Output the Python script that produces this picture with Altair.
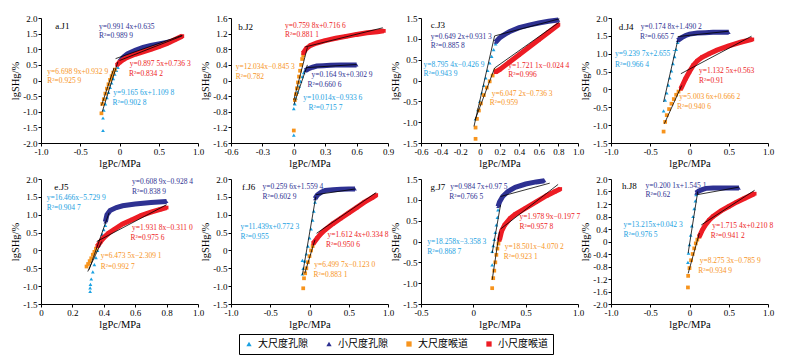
import altair as alt
import pandas as pd

SERIES = ["大尺度孔隙", "小尺度孔隙", "大尺度喉道", "小尺度喉道"]
COLORS = ["#1BA1E2", "#2E3192", "#F7941D", "#ED1C24"]
SHAPES = ["triangle-up", "triangle-up", "square", "square"]

# ---------------- a.J1 ----------------
j1_large_pore = [(-0.21, -1.6), (-0.21, -1.2), (-0.2, -0.95), (-0.18, -0.75), (-0.16, -0.55), (-0.14, -0.38),
                 (-0.12, -0.22), (-0.1, -0.08), (-0.08, 0.06), (-0.06, 0.2), (-0.04, 0.32), (-0.02, 0.42)]
j1_small_pore = [(0.0, 0.6), (0.05, 0.75), (0.1, 0.85), (0.2, 0.97), (0.3, 1.06), (0.4, 1.12), (0.5, 1.17),
                 (0.6, 1.22), (0.66, 1.25)]
j1_large_throat = [(-0.23, -1.05), (-0.22, -0.75), (-0.2, -0.6), (-0.18, -0.42), (-0.16, -0.26), (-0.14, -0.12),
                   (-0.12, 0.02), (-0.1, 0.14), (-0.08, 0.25), (-0.06, 0.35)]
j1_small_throat = [(-0.03, 0.5), (0.0, 0.58), (0.05, 0.67), (0.1, 0.74), (0.2, 0.84), (0.3, 0.92), (0.4, 1.0),
                   (0.5, 1.08), (0.6, 1.18), (0.7, 1.3), (0.8, 1.42)]
j1_fits = [(0, -0.22, -1.0, -0.02, 0.6), (1, 0.0, 0.64, 0.8, 1.43), (2, -0.23, -0.8, -0.07, 0.4), (3, -0.05, 0.7, 0.8, 1.45)]
j1_eqs = [(1, "y=0.991 4x+0.635", -0.26, 1.71), (1, "R²=0.989 9", -0.26, 1.41),
          (3, "y=0.897 5x+0.736 3", 0.13, 0.52), (3, "R²=0.834 2", 0.12, 0.21),
          (2, "y=6.698 9x+0.932 9", -0.92, 0.28), (2, "R²=0.925 9", -0.92, -0.01),
          (0, "y=9.165 6x+1.109 8", -0.08, -0.41), (0, "R²=0.902 8", -0.09, -0.71)]

# ---------------- b.J2 ----------------
j2_large_pore = [(0.0, -1.4), (0.0, -0.72), (0.01, -0.6), (0.02, -0.45), (0.035, -0.3), (0.05, -0.15),
                 (0.065, -0.02), (0.08, 0.1), (0.095, 0.2), (0.11, 0.28)]
j2_small_pore = [(0.11, 0.25), (0.14, 0.3), (0.18, 0.34), (0.22, 0.37), (0.28, 0.38), (0.35, 0.39), (0.45, 0.4),
                 (0.55, 0.4), (0.6, 0.4)]
j2_large_throat = [(0.0, -1.28), (0.01, -0.5), (0.02, -0.35), (0.03, -0.2), (0.04, -0.05), (0.05, 0.1),
                   (0.06, 0.25), (0.07, 0.4), (0.08, 0.55), (0.09, 0.65)]
j2_small_throat = [(0.09, 0.7), (0.12, 0.82), (0.16, 0.9), (0.22, 0.96), (0.3, 1.02), (0.4, 1.08), (0.5, 1.13),
                   (0.6, 1.18), (0.7, 1.22), (0.8, 1.25), (0.86, 1.27)]
j2_fits = [(0, 0.0, -0.62, 0.13, 0.4), (1, 0.12, 0.33, 0.6, 0.41), (2, 0.0, -0.5, 0.13, 0.85), (3, 0.11, 0.86, 0.85, 1.35)]
j2_eqs = [(3, "y=0.759 8x+0.716 6", -0.085, 1.40), (3, "R²=0.881 1", -0.085, 1.17),
          (2, "y=12.034x−0.845 3", -0.555, 0.34), (2, "R²=0.782", -0.555, 0.09),
          (1, "y=0.164 9x+0.302 9", 0.17, 0.14), (1, "R²=0.660 6", 0.13, -0.11),
          (0, "y=10.014x−0.933 6", 0.09, -0.44), (0, "R²=0.715 7", 0.14, -0.7)]

# ---------------- c.J3 ----------------
j3_large_pore = [(-0.044, -0.92), (-0.02, -0.7), (0.0, -0.5), (0.02, -0.3), (0.04, -0.12), (0.06, 0.06),
                 (0.08, 0.24), (0.1, 0.42), (0.12, 0.58), (0.14, 0.74), (0.16, 0.88)]
j3_small_pore = [(0.16, 0.92), (0.2, 1.02), (0.25, 1.1), (0.3, 1.17), (0.4, 1.27), (0.5, 1.33), (0.6, 1.38),
                 (0.7, 1.42), (0.8, 1.45)]
j3_large_throat = [(-0.044, -1.4), (-0.044, -1.13), (-0.03, -0.92), (-0.01, -0.72), (0.01, -0.55), (0.04, -0.35),
                   (0.07, -0.17), (0.1, -0.02), (0.13, 0.12), (0.16, 0.24)]
j3_small_throat = [(0.16, 0.2), (0.2, 0.26), (0.3, 0.44), (0.4, 0.62), (0.5, 0.8), (0.6, 0.98), (0.7, 1.16),
                   (0.8, 1.34)]
j3_fits = [(0, -0.06, -1.1, 0.15, 1.07), (1, 0.15, 1.07, 0.81, 1.48), (2, -0.05, -0.95, 0.15, 0.3), (3, 0.15, 0.3, 0.81, 1.4)]
j3_eqs = [(1, "y=0.649 2x+0.931 3", -0.5, 1.05), (1, "R²=0.885 8", -0.5, 0.84),
          (0, "y=8.795 4x−0.426 9", -0.575, 0.38), (0, "R²=0.943 9", -0.575, 0.16),
          (3, "y=1.721 1x−0.024 4", 0.29, 0.36), (3, "R²=0.996", 0.29, 0.14),
          (2, "y=6.047 2x−0.736 3", 0.12, -0.32), (2, "R²=0.959", 0.10, -0.54)]

# ---------------- d.J4 ----------------
j4_large_pore = [(-0.33, -0.6), (-0.31, -0.3), (-0.29, -0.1), (-0.27, 0.12), (-0.25, 0.32), (-0.23, 0.52),
                 (-0.21, 0.72), (-0.19, 0.92), (-0.17, 1.12), (-0.15, 1.32)]
j4_small_pore = [(-0.15, 1.37), (-0.1, 1.45), (-0.05, 1.51), (0.0, 1.55), (0.1, 1.58), (0.2, 1.59), (0.3, 1.6),
                 (0.4, 1.6), (0.5, 1.6)]
j4_large_throat = [(-0.33, -1.18), (-0.31, -0.91), (-0.29, -0.72), (-0.26, -0.55), (-0.23, -0.4), (-0.2, -0.27),
                   (-0.17, -0.15), (-0.14, -0.06), (-0.11, 0.02)]
j4_small_throat = [(-0.11, 0.02), (-0.05, 0.3), (0.0, 0.5), (0.05, 0.68), (0.1, 0.8), (0.16, 0.9), (0.25, 1.0),
                   (0.35, 1.1), (0.5, 1.22), (0.65, 1.32), (0.8, 1.4)]
j4_fits = [(0, -0.33, -0.35, -0.15, 1.37), (1, -0.15, 1.48, 0.5, 1.63), (2, -0.32, -0.96, -0.1, 0.11), (3, -0.11, 0.44, 0.79, 1.49)]
j4_eqs = [(1, "y=0.174 8x+1.490 2", -0.62, 1.76), (1, "R²=0.665 7", -0.63, 1.46),
          (0, "y=9.239 7x+2.655 7", -0.95, 0.98), (0, "R²=0.966 4", -0.95, 0.69),
          (3, "y=1.132 5x+0.563", 0.12, 0.53), (3, "R²=0.91", 0.12, 0.25),
          (2, "y=5.003 6x+0.666 2", -0.13, -0.21), (2, "R²=0.940 6", -0.16, -0.49)]

# ---------------- e.J5 ----------------
j5_large_pore = [(0.313, -1.15), (0.313, -1.05), (0.315, -0.95), (0.32, -0.8), (0.33, -0.6), (0.34, -0.4),
                 (0.35, -0.2), (0.36, 0.0), (0.37, 0.15), (0.38, 0.3), (0.39, 0.45), (0.4, 0.58), (0.41, 0.7)]
j5_small_pore = [(0.41, 0.8), (0.42, 1.0), (0.44, 1.12), (0.48, 1.2), (0.52, 1.25), (0.6, 1.3), (0.7, 1.34),
                 (0.8, 1.37)]
j5_large_throat = [(0.29, -0.45), (0.3, -0.38), (0.31, -0.3), (0.32, -0.22), (0.33, -0.12), (0.34, -0.04),
                   (0.35, 0.05), (0.36, 0.13)]
j5_small_throat = [(0.36, 0.12), (0.38, 0.25), (0.4, 0.36), (0.43, 0.48), (0.47, 0.6), (0.52, 0.74), (0.58, 0.86),
                   (0.64, 0.98), (0.7, 1.07), (0.76, 1.15), (0.8, 1.2)]
j5_fits = [(0, 0.306, -0.54, 0.434, 1.06), (2, 0.298, -0.59, 0.387, 0.25), (3, 0.355, 0.25, 0.8, 1.28)]
j5_eqs = [(1, "y=0.608 9x−0.928 4", 0.58, 1.91), (1, "R²=0.838 9", 0.58, 1.63),
          (0, "y=16.466x−5.729 9", 0.036, 1.47), (0, "R²=0.904 7", 0.036, 1.19),
          (3, "y=1.931 8x−0.311 0", 0.58, 0.62), (3, "R²=0.975 6", 0.57, 0.34),
          (2, "y=6.473 5x−2.309 1", 0.38, -0.15), (2, "R²=0.992 7", 0.38, -0.45)]

# ---------------- f.J6 ----------------
j6_large_pore = [(-0.09, -0.66), (-0.09, -0.28), (-0.08, -0.5), (-0.06, -0.3), (-0.04, -0.1), (-0.02, 0.12),
                 (0.0, 0.35), (0.02, 0.6), (0.04, 0.85), (0.055, 1.1), (0.07, 1.35)]
j6_small_pore = [(0.07, 1.45), (0.1, 1.55), (0.15, 1.63), (0.2, 1.68), (0.3, 1.7), (0.4, 1.71), (0.5, 1.72),
                 (0.58, 1.72)]
j6_large_throat = [(-0.08, -1.06), (-0.07, -0.78), (-0.055, -0.64), (-0.04, -0.5), (-0.02, -0.33), (0.0, -0.16),
                   (0.02, 0.0), (0.04, 0.12), (0.05, 0.2)]
j6_small_throat = [(0.05, 0.2), (0.1, 0.35), (0.15, 0.48), (0.2, 0.58), (0.3, 0.75), (0.4, 0.9), (0.5, 1.05),
                   (0.6, 1.2), (0.7, 1.35), (0.8, 1.48), (0.85, 1.55)]
j6_fits = [(0, -0.09, -0.68, 0.08, 1.5), (1, 0.08, 1.56, 0.58, 1.72), (2, -0.06, -0.64, 0.07, 0.3), (3, 0.09, 0.48, 0.85, 1.62)]
j6_eqs = [(1, "y=0.259 6x+1.559 4", -0.6, 1.78), (1, "R²=0.602 9", -0.6, 1.5),
          (0, "y=11.439x+0.772 3", -0.88, 0.67), (0, "R²=0.955", -0.88, 0.39),
          (3, "y=1.612 4x+0.334 8", 0.23, 0.43), (3, "R²=0.950 6", 0.21, 0.16),
          (2, "y=6.499 7x−0.123 0", 0.06, -0.4), (2, "R²=0.883 1", 0.05, -0.68)]

# ---------------- g.J7 ----------------
j7_large_pore = [(0.18, -0.56), (0.18, -0.24), (0.19, -0.1), (0.2, 0.05), (0.21, 0.22), (0.22, 0.4), (0.23, 0.58),
                 (0.236, 0.76)]
j7_small_pore = [(0.236, 0.84), (0.25, 0.95), (0.28, 1.08), (0.33, 1.2), (0.4, 1.3), (0.5, 1.38), (0.6, 1.43),
                 (0.68, 1.46)]
j7_large_throat = [(0.18, -1.12), (0.19, -0.88), (0.2, -0.7), (0.21, -0.5), (0.22, -0.32), (0.23, -0.17),
                   (0.24, -0.05), (0.25, 0.04)]
j7_small_throat = [(0.25, 0.04), (0.27, 0.25), (0.3, 0.4), (0.35, 0.55), (0.4, 0.65), (0.5, 0.8), (0.6, 0.95),
                   (0.7, 1.1), (0.78, 1.2), (0.83, 1.26)]
j7_fits = [(0, 0.18, -0.28, 0.26, 0.88), (1, 0.26, 1.08, 0.73, 1.4), (2, 0.18, -0.92, 0.25, 0.24), (3, 0.26, 0.3, 0.81, 1.37)]
j7_eqs = [(1, "y=0.984 7x+0.97 5", -0.22, 1.31), (1, "R²=0.766 5", -0.23, 1.07),
          (0, "y=18.258x−3.358 3", -0.44, 0.0), (0, "R²=0.868 7", -0.44, -0.24),
          (3, "y=1.978 9x−0.197 7", 0.44, 0.6), (3, "R²=0.957 8", 0.44, 0.36),
          (2, "y=18.501x−4.070 2", 0.3, -0.14), (2, "R²=0.923 1", 0.29, -0.38)]

# ---------------- h.J8 ----------------
j8_large_pore = [(-0.02, -0.67), (-0.013, -0.37), (0.0, -0.1), (0.015, 0.2), (0.03, 0.5), (0.045, 0.8),
                 (0.06, 1.05), (0.075, 1.3), (0.084, 1.5)]
j8_small_pore = [(0.084, 1.55), (0.12, 1.62), (0.17, 1.67), (0.21, 1.7), (0.3, 1.71), (0.4, 1.71), (0.5, 1.71),
                 (0.63, 1.71)]
j8_large_throat = [(-0.02, -1.47), (-0.017, -1.1), (0.0, -0.85), (0.02, -0.6), (0.04, -0.4), (0.06, -0.22),
                   (0.08, -0.06), (0.1, 0.06), (0.126, 0.16)]
j8_small_throat = [(0.126, 0.16), (0.16, 0.35), (0.2, 0.52), (0.25, 0.68), (0.3, 0.8), (0.4, 0.98), (0.5, 1.12),
                   (0.6, 1.26), (0.7, 1.38), (0.8, 1.5), (0.83, 1.53)]
j8_fits = [(0, -0.017, -0.37, 0.105, 1.6), (1, 0.1, 1.5, 0.63, 1.74), (2, -0.017, -1.02, 0.126, 0.27), (3, 0.15, 0.53, 0.83, 1.64)]
j8_eqs = [(1, "y=0.200 1x+1.545 1", -0.56, 1.78), (1, "R²=0.62", -0.56, 1.50),
          (0, "y=13.215x+0.042 3", -0.84, 0.53), (0, "R²=0.976 5", -0.84, 0.21),
          (3, "y=1.715 4x+0.210 8", 0.29, 0.5), (3, "R²=0.941 2", 0.27, 0.19),
          (2, "y=8.275 3x−0.785 9", 0.13, -0.61), (2, "R²=0.934 9", 0.11, -0.93)]

# axis ticks
x_ticks_a = [-1.0, -0.5, 0, 0.5, 1.0]
x_ticks_b = [-0.6, -0.3, 0, 0.3, 0.6, 0.9]
x_ticks_c = [-0.6, -0.4, -0.2, 0, 0.2, 0.4, 0.6, 0.8, 1.0]
x_ticks_e = [0, 0.2, 0.4, 0.6, 0.8, 1.0]
x_ticks_g = [-0.5, 0, 0.5, 1.0]
y_ticks_20 = [-2.0, -1.5, -1.0, -0.5, 0, 0.5, 1.0, 1.5, 2.0]
y_ticks_16 = [-1.6, -1.2, -0.8, -0.4, 0, 0.4, 0.8, 1.2, 1.6]
y_ticks_15 = [-1.5, -1.0, -0.5, 0, 0.5, 1.0, 1.5]
y_ticks_h = [-2.0, -1.6, -1.2, -0.8, -0.4, 0, 0.4, 0.8, 1.2, 1.6, 2.0]
y_ticks_d = [-1.5, -1.0, -0.5, 0, 0.5, 1.0, 1.5, 2.0]

PANELS = [
    dict(label="a.J1", lab=(-0.82, 1.75), pts=[j1_large_pore, j1_small_pore, j1_large_throat, j1_small_throat],
         fits=j1_fits, eqs=j1_eqs, xd=[-1, 1], xt=x_ticks_a, yd=[-2, 2], yt=y_ticks_20),
    dict(label="b.J2", lab=(-0.53, 1.38), pts=[j2_large_pore, j2_small_pore, j2_large_throat, j2_small_throat],
         fits=j2_fits, eqs=j2_eqs, xd=[-0.6, 0.9], xt=x_ticks_b, yd=[-1.6, 1.6], yt=y_ticks_16),
    dict(label="c.J3", lab=(-0.5, 1.34), pts=[j3_large_pore, j3_small_pore, j3_large_throat, j3_small_throat],
         fits=j3_fits, eqs=j3_eqs, xd=[-0.6, 1.0], xt=x_ticks_c, yd=[-1.5, 1.5], yt=y_ticks_15),
    dict(label="d.J4", lab=(-0.9, 1.76), pts=[j4_large_pore, j4_small_pore, j4_large_throat, j4_small_throat],
         fits=j4_fits, eqs=j4_eqs, xd=[-1, 1], xt=x_ticks_a, yd=[-1.5, 2.0], yt=y_ticks_d),
    dict(label="e.J5", lab=(0.085, 1.78), pts=[j5_large_pore, j5_small_pore, j5_large_throat, j5_small_throat],
         fits=j5_fits, eqs=j5_eqs, xd=[0, 1.0], xt=x_ticks_e, yd=[-1.5, 2.0], yt=y_ticks_d),
    dict(label="f.J6", lab=(-0.86, 1.78), pts=[j6_large_pore, j6_small_pore, j6_large_throat, j6_small_throat],
         fits=j6_fits, eqs=j6_eqs, xd=[-1, 1], xt=x_ticks_a, yd=[-1.5, 2.0], yt=y_ticks_d),
    dict(label="g.J7", lab=(-0.41, 1.31), pts=[j7_large_pore, j7_small_pore, j7_large_throat, j7_small_throat],
         fits=j7_fits, eqs=j7_eqs, xd=[-0.5, 1.0], xt=x_ticks_g, yd=[-1.5, 1.5], yt=y_ticks_15),
    dict(label="h.J8", lab=(-0.86, 1.78), pts=[j8_large_pore, j8_small_pore, j8_large_throat, j8_small_throat],
         fits=j8_fits, eqs=j8_eqs, xd=[-1, 1], xt=x_ticks_a, yd=[-2, 2], yt=y_ticks_h),
]

LBL = "datum.value == 0 ? '0' : replace(format(datum.value, '.1f'), '\u2212', '-')"
SERIF = "Liberation Serif"
W, H = 157, 125

color_scale = alt.Scale(domain=SERIES, range=COLORS)
shape_scale = alt.Scale(domain=SERIES, range=SHAPES)
LEGEND = alt.Legend(title=None, orient="none", legendX=198, legendY=316, direction="horizontal",
                    strokeColor="black", padding=5, columnPadding=16, symbolSize=28,
                    labelFontSize=10, labelFont="Noto Sans CJK SC", labelOffset=4, symbolStrokeWidth=0)


def make_panel(p):
    rows = []
    for i, (s, pts) in enumerate(zip(SERIES, p["pts"])):
        for x, y in pts:
            rows.append({"x": x, "y": y, "s": s, "c": COLORS[i]})
    pdf = pd.DataFrame(rows)
    fdf = pd.DataFrame([{"x": a, "y": b, "x2": c, "y2": d} for i, a, b, c, d in p["fits"]])
    edf = pd.DataFrame([{"c": COLORS[i], "t": t, "x": x, "y": y} for i, t, x, y in p["eqs"]])
    ldf = pd.DataFrame([{"t": p["label"], "x": p["lab"][0], "y": p["lab"][1]}])

    X = alt.X("x:Q", scale=alt.Scale(domain=p["xd"], nice=False, zero=False),
              axis=alt.Axis(values=p["xt"], title="lgPc/MPa", labelExpr=LBL))
    Y = alt.Y("y:Q", scale=alt.Scale(domain=p["yd"], nice=False, zero=False),
              axis=alt.Axis(values=p["yt"], title="lgSHg/%", labelExpr=LBL))

    pts = alt.Chart(pdf).mark_point(filled=True, size=14, opacity=1).encode(
        x=X, y=Y,
        color=alt.Color("s:N", scale=color_scale, legend=LEGEND),
        shape=alt.Shape("s:N", scale=shape_scale, legend=LEGEND))
    bands = alt.Chart(pdf).transform_filter(
        alt.FieldOneOfPredicate(field="s", oneOf=[SERIES[1], SERIES[3]])
    ).mark_line(strokeWidth=5).encode(
        x=X, y=Y, color=alt.Color("c:N", scale=None), detail="s:N")
    fits = alt.Chart(fdf).mark_rule(color="black", strokeWidth=0.8).encode(
        x=X, y=Y, x2="x2:Q", y2="y2:Q")
    eqs = alt.Chart(edf).mark_text(align="left", baseline="middle", fontSize=7.5, font=SERIF).encode(
        x=X, y=Y, text="t:N", color=alt.Color("c:N", scale=None))
    lab = alt.Chart(ldf).mark_text(align="left", baseline="middle", fontSize=9, font=SERIF, color="black").encode(
        x=X, y=Y, text="t:N")
    return alt.layer(pts, bands, fits, eqs, lab).properties(width=W, height=H)


panels = [make_panel(p) for p in PANELS]

chart = alt.concat(*panels, columns=4, spacing={"row": 36, "column": 33}, bounds="flush").properties(
    padding={"left": 2, "top": 2, "right": 5, "bottom": 2}
).configure_view(stroke=None).configure_axis(
    labelFont=SERIF, labelFontSize=9, labelColor="black", titleFont=SERIF, titleFontSize=10.5,
    titleFontWeight="normal", titleColor="black", domainColor="black", tickColor="black",
    tickSize=3, grid=False, labelPadding=1, titlePadding=2, labelFlush=False, labelOverlap=False
).configure_legend(strokeWidth=1)

chart.save("out.html", embed_options={"renderer": "svg", "actions": False})
